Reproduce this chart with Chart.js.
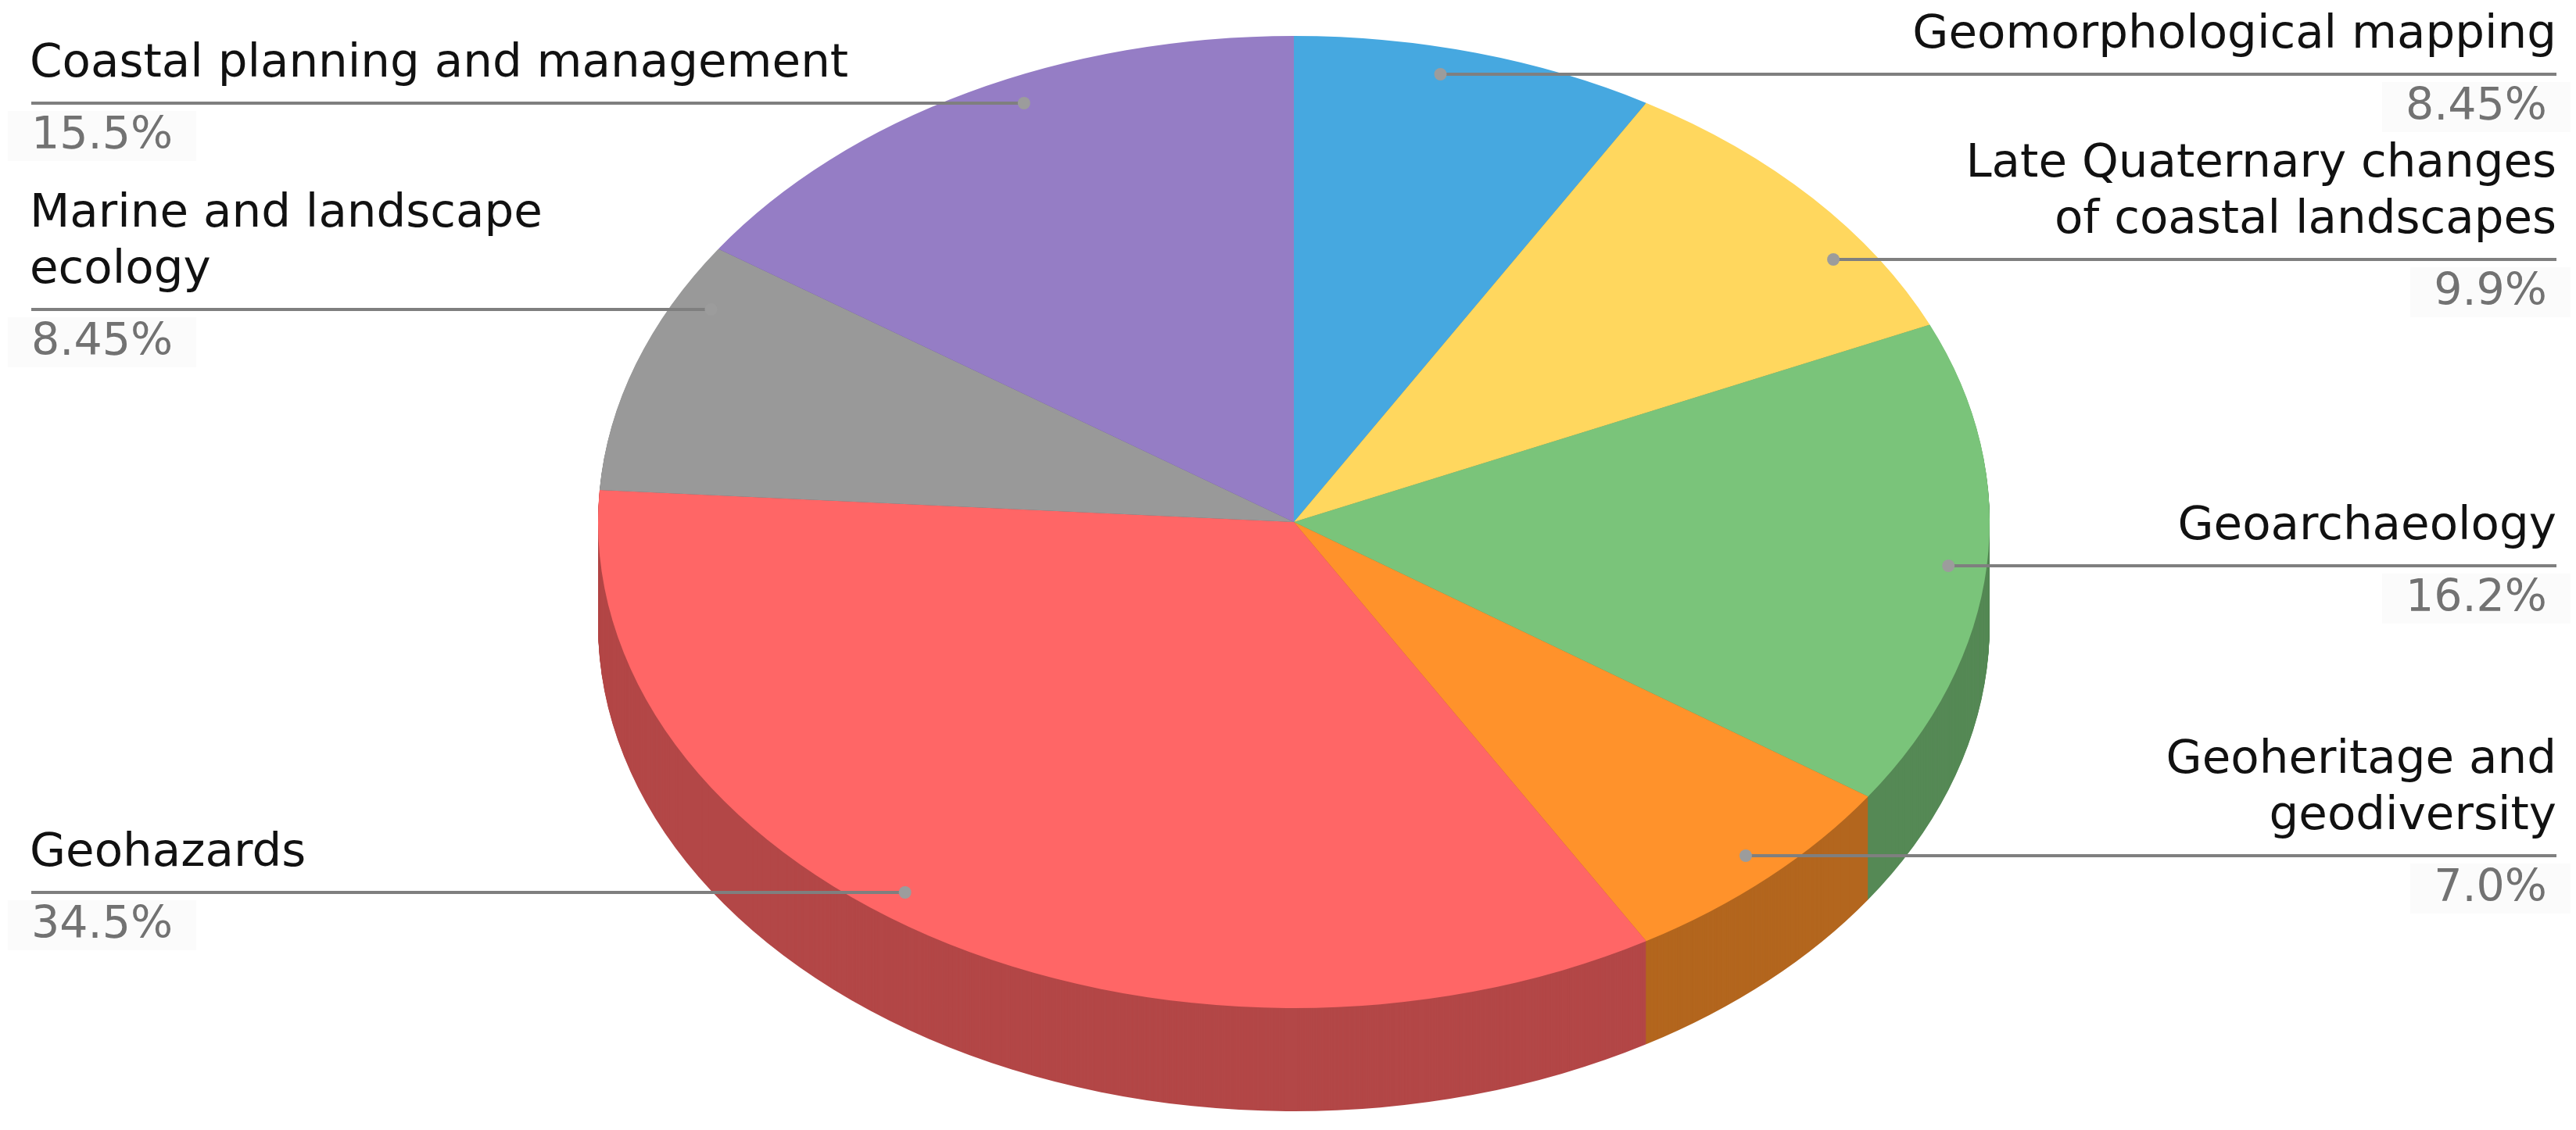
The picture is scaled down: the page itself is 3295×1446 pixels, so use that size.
<!DOCTYPE html>
<html>
<head>
<meta charset="utf-8">
<script src="https://cdn.jsdelivr.net/npm/chart.js@4.4.0/dist/chart.umd.min.js"></script>
<style>
    html, body { margin: 0; padding: 0; background: #fff; }
    #wrap { width: 3295px; height: 1446px; }
</style>
</head>
<body>
<div id="wrap"><canvas id="topicChart" width="3295" height="1446"></canvas></div>
<script>
// data
var categories = [
    ['Geomorphological mapping'],
    ['Late Quaternary changes', 'of coastal landscapes'],
    ['Geoarchaeology'],
    ['Geoheritage and', 'geodiversity'],
    ['Geohazards'],
    ['Marine and landscape', 'ecology'],
    ['Coastal planning and management']
];
var shares = [8.45, 9.9, 16.2, 7.0, 34.5, 8.45, 15.5];
var shareLabels = ['8.45%', '9.9%', '16.2%', '7.0%', '34.5%', '8.45%', '15.5%'];

// style / layout
var sliceColors = ['#46a8e0', '#ffd75e', '#7ac47a', '#ff922b', '#ff6666', '#999999', '#957dc5'];
var pieCx = 1655, pieCy = 668, pieRx = 890, pieRy = 622, pieDepth = 132;
var labelLineY = [95, 332, 724, 1095, 1142, 396, 132];
var dotFrac = 0.945;
var leftEdge = 40, rightEdge = 3270;
var labelFont = '59.5px "DejaVu Sans", Verdana, sans-serif';
var pctFont = '57px "DejaVu Sans", Verdana, sans-serif';

function darken(hex, f) {
    var n = parseInt(hex.slice(1), 16);
    var r = Math.round(((n >> 16) & 255) * f);
    var g = Math.round(((n >> 8) & 255) * f);
    var b = Math.round((n & 255) * f);
    return 'rgb(' + r + ',' + g + ',' + b + ')';
}
var sideColors = sliceColors.map(function (c) { return darken(c, 0.7); });

// squash the library's circle into the tilted ellipse
function pieTransform(ctx, meta) {
    var arc = meta.data[0];
    var r0 = arc.outerRadius;
    ctx.translate(pieCx, pieCy);
    ctx.scale(pieRx / r0, pieRy / r0);
    ctx.translate(-arc.x, -arc.y);
}

var pie3d = {
    id: 'pie3d',
    beforeDatasetsDraw: function (chart) {
        var ctx = chart.ctx;
        var meta = chart.getDatasetMeta(0);
        // side wall: stack of darker copies pushed down
        for (var d = pieDepth; d > 0; d--) {
            ctx.save();
            ctx.translate(0, d);
            pieTransform(ctx, meta);
            meta.data.forEach(function (el, i) {
                var opts = el.options;
                el.options = Object.assign({}, opts, { backgroundColor: sideColors[i] });
                el.draw(ctx);
                el.options = opts;
            });
            ctx.restore();
        }
        ctx.save();
        pieTransform(ctx, meta);
    },
    afterDatasetsDraw: function (chart) {
        chart.ctx.restore();
    }
};

var pieLabels = {
    id: 'pieLabels',
    afterDraw: function (chart) {
        var ctx = chart.ctx;
        var meta = chart.getDatasetMeta(0);
        meta.data.forEach(function (el, i) {
            var t0 = el.startAngle + Math.PI / 2;
            var t1 = el.endAngle + Math.PI / 2;
            var mid = (t0 + t1) / 2;
            var right = Math.sin(mid) >= 0;
            var y = labelLineY[i];
            var c = (pieCy - y) / (dotFrac * pieRy);
            var t = Math.acos(Math.max(-1, Math.min(1, c)));
            if (!right) t = 2 * Math.PI - t;
            if (t < t0 || t > t1) t = mid;
            var px = pieCx + dotFrac * pieRx * Math.sin(t);
            var py = pieCy - dotFrac * pieRy * Math.cos(t);

            // leader line
            ctx.save();
            ctx.strokeStyle = '#7f7f7f';
            ctx.lineWidth = 4;
            ctx.beginPath();
            ctx.moveTo(px, py);
            ctx.lineTo(px, y);
            ctx.lineTo(right ? rightEdge : leftEdge, y);
            ctx.stroke();
            ctx.fillStyle = '#9c9c9c';
            ctx.beginPath();
            ctx.arc(px, py, 8, 0, Math.PI * 2);
            ctx.fill();

            // category text above the line
            ctx.font = labelFont;
            ctx.fillStyle = '#111';
            ctx.textBaseline = 'alphabetic';
            ctx.textAlign = right ? 'right' : 'left';
            var lines = categories[i];
            for (var k = 0; k < lines.length; k++) {
                var ly = y - 34 - (lines.length - 1 - k) * 72;
                ctx.fillText(lines[k], right ? rightEdge : leftEdge - 2, ly);
            }

            // share below the line
            ctx.font = pctFont;
            var w = ctx.measureText(shareLabels[i]).width;
            var px0 = right ? rightEdge - 12 - w : leftEdge;
            ctx.fillStyle = '#fbfbfb';
            ctx.fillRect(px0 - 30, y + 10, w + 60, 64);
            ctx.fillStyle = '#727272';
            ctx.textAlign = 'left';
            ctx.fillText(shareLabels[i], px0, y + 58);
            ctx.restore();
        });
    }
};

new Chart(document.getElementById('topicChart'), {
    type: 'pie',
    data: {
        labels: categories.map(function (c) { return c.join(' '); }),
        datasets: [{
            data: shares,
            backgroundColor: sliceColors,
            borderWidth: 0,
            hoverOffset: 0,
            clip: false
        }]
    },
    options: {
        responsive: false,
        animation: false,
        devicePixelRatio: 1,
        events: [],
        plugins: {
            legend: { display: false },
            tooltip: { enabled: false }
        }
    },
    plugins: [pie3d, pieLabels]
});
</script>
</body>
</html>
